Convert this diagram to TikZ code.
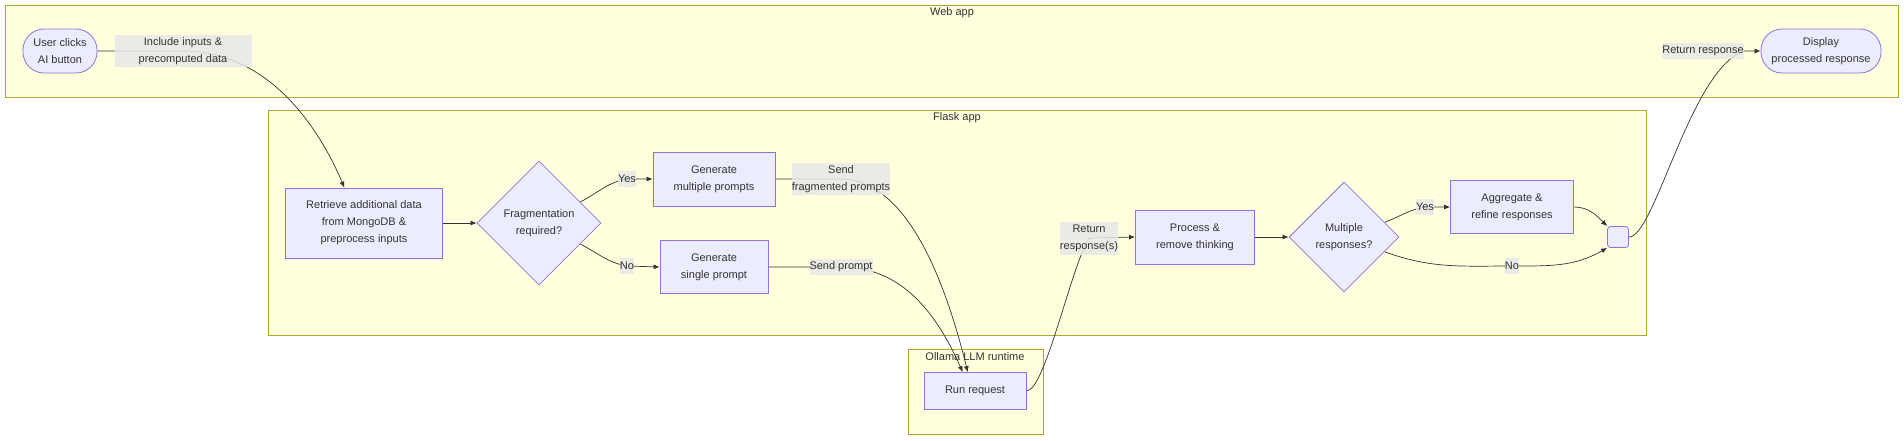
\documentclass[tikz,border=0pt]{standalone}
\usepackage{fontspec}
\setmainfont{Liberation Sans}
\usetikzlibrary{arrows.meta,shapes.geometric}
\tikzset{>={Latex[width=5pt,length=6pt]}}

\definecolor{clfill}{HTML}{FFFFDE}
\definecolor{cldraw}{HTML}{AAAA33}
\definecolor{ndfill}{HTML}{ECECFF}
\definecolor{nddraw}{HTML}{9370DB}
\definecolor{lbfill}{HTML}{E8E8E8}
\definecolor{txt}{HTML}{333333}

\pgfdeclarelayer{clusters}
\pgfdeclarelayer{edges}
\pgfsetlayers{clusters,edges,main}

\tikzset{
  cluster/.style={draw=cldraw, fill=clfill, line width=0.8pt},
  box/.style={draw=nddraw, fill=ndfill, line width=0.8pt, inner sep=0pt, align=center},
  pill/.style={box, rounded corners=21pt},
  decision/.style={box, diamond},
  elabel/.style={fill=lbfill, fill opacity=0.85, text opacity=1, inner sep=0pt, align=center, minimum height=16pt},
  title/.style={inner sep=0pt},
  flow/.style={draw=txt, line width=0.7pt},
}

\begin{document}
\begin{tikzpicture}[x=1pt, y=-1pt, every node/.style={text=txt, font=\fontsize{11}{17}\selectfont}]
  \useasboundingbox (0,0) rectangle (1904,440);

  % subgraphs
  \begin{pgfonlayer}{clusters}
    \draw[cluster] (5,5) rectangle (1898,97);
    \draw[cluster] (268,110) rectangle (1646,335);
    \draw[cluster] (908,349) rectangle (1043,434);
  \end{pgfonlayer}
  \node[title] (webT) at (952,13) {Web app};
  \node[title] (flaskT) at (957,118) {Flask app};
  \node[title] (ollamaT) at (975,357) {Ollama LLM runtime};

  % steps
  \node[pill, minimum width=74pt, minimum height=44pt] (user) at (60,51) {User clicks\\AI button};
  \node[pill, minimum width=120pt, minimum height=44pt] (disp) at (1821,51) {Display\\processed response};
  \node[box, minimum width=157pt, minimum height=70pt] (retr) at (364,223) {Retrieve additional data\\from MongoDB \&\\preprocess inputs};
  \node[decision, minimum width=124pt, minimum height=124pt] (frag) at (539,223) {Fragmentation\\required?};
  \node[box, minimum width=122pt, minimum height=54pt] (genM) at (714,179) {Generate\\multiple prompts};
  \node[box, minimum width=108pt, minimum height=53pt] (genS) at (714,267) {Generate\\single prompt};
  \node[box, minimum width=102pt, minimum height=37pt] (run) at (975,391) {Run request};
  \node[box, minimum width=119pt, minimum height=54pt] (proc) at (1195,237) {Process \&\\remove thinking};
  \node[decision, minimum width=110pt, minimum height=110pt] (multi) at (1344,237) {Multiple\\responses?};
  \node[box, minimum width=123pt, minimum height=53pt] (agg) at (1512,207) {Aggregate \&\\refine responses};
  \node[box, rounded corners=3pt, minimum size=21pt] (join) at (1618,237) {};

  % edge labels
  \node[elabel, minimum width=137pt, minimum height=32pt] (lInc) at (183,51) {Include inputs \&\\precomputed data};
  \node[elabel] (lYes1) at (627,179) {Yes};
  \node[elabel] (lNo1) at (627,266) {No};
  \node[elabel, minimum width=98pt, minimum height=32pt] (lFrag) at (841,179) {Send\\fragmented prompts};
  \node[elabel] (lSend) at (841,267) {Send prompt};
  \node[elabel, minimum height=33pt] (lResp) at (1089,238) {Return\\response(s)};
  \node[elabel] (lYes2) at (1425,207) {Yes};
  \node[elabel] (lNo2) at (1512,266) {No};
  \node[elabel] (lRet) at (1703,51) {Return response};

  \begin{pgfonlayer}{edges}
    \draw[flow, ->] (user.east) -- (lInc.center) .. controls (270,51) and (320,130) .. (retr.119); % web -> flask
    \draw[flow, ->] (retr) -- (frag);
    \draw[flow, ->] (frag.27) to[out=27, in=190] (lYes1.center) -- (genM.west);
    \draw[flow, ->] (frag.-27) to[out=-27, in=170] (lNo1.center) -- (genS.west);
    \draw[flow, ->] (genM.east) -- (lFrag.center) .. controls (900,180) and (940,260) .. (run.111); % flask -> ollama
    \draw[flow, ->] (genS.east) -- (lSend.center) .. controls (900,267) and (935,310) .. (run.123);
    \draw[flow, ->] (run.east) .. controls (1045,391) and (1070,270) .. (lResp.center) -- (proc.west); % ollama -> flask
    \draw[flow, ->] (proc) -- (multi);
    \draw[flow, ->] (multi.20) to[out=20, in=190] (lYes2.center) -- (agg.west);
    \draw[flow, ->] (multi.-20) to[out=-20, in=180] (lNo2.center) to[out=0, in=210] (join.south west);
    \draw[flow, ->] (agg.east) to[out=0, in=135] (join.north west);
    \draw[flow, ->] (join.east) .. controls (1655,237) and (1690,70) .. (lRet.east) -- (disp.west); % flask -> web
  \end{pgfonlayer}
\end{tikzpicture}
\end{document}
